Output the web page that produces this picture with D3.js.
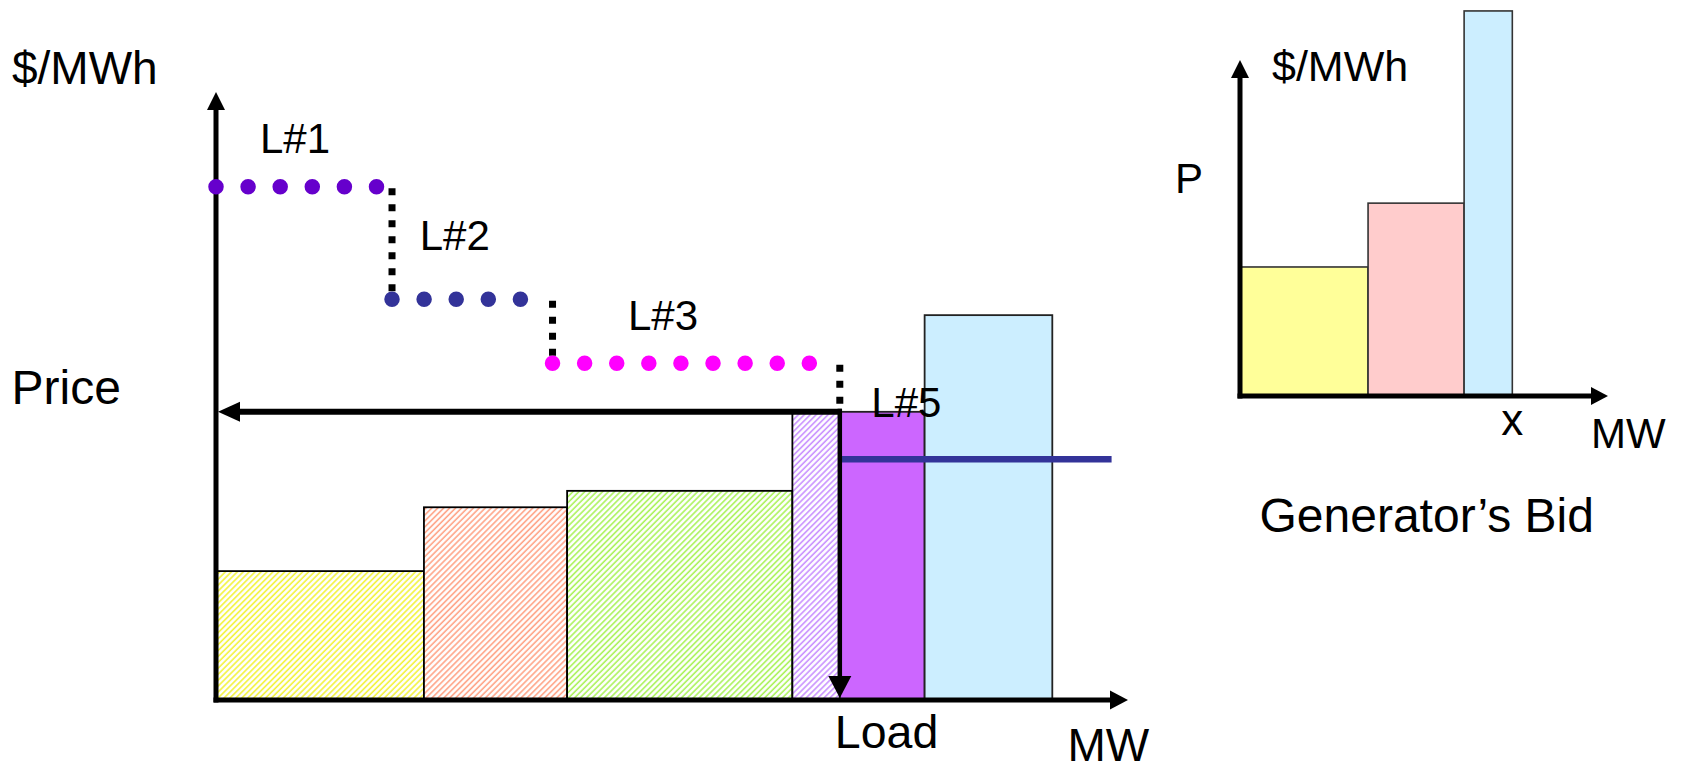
<!DOCTYPE html>
<html>
<head>
<meta charset="utf-8">
<script src="https://cdn.jsdelivr.net/npm/d3@7"></script>
<style>
  html, body { margin: 0; padding: 0; background: #ffffff; }
  svg { display: block; }
  text { font-family: "Liberation Sans", Arial, Helvetica, sans-serif; fill: #000; }
</style>
</head>
<body>
<div id="chart"></div>
<script>
// ---------------- DATA ----------------
// Main chart: generator offer stack (MW ranges and $/MWh prices)
const offerNames   = ["Gen A", "Gen B", "Gen C", "Gen D (dispatched)", "Gen D (not dispatched)", "Gen E"];
const offerStartMW = [0,    22.8, 38.5, 63.2, 68.4, 77.7];
const offerEndMW   = [22.8, 38.5, 63.2, 68.4, 77.7, 91.7];
const offerPrice   = [21.2, 31.7, 34.4, 47.4, 47.4, 63.3];

// Load (demand) bid steps
const loadNames    = ["L#1", "L#2", "L#3"];
const loadStartMW  = [0,    19.3, 36.9];
const loadEndMW    = [19.3, 36.9, 68.4];
const loadPrice    = [84.4, 65.9, 55.4];

// Market clearing
const clearingLoadMW = 68.4;
const clearingPrice  = 47.4;

// Horizontal bid line to the right of the load
const bidLineStartMW = 68.4;
const bidLineEndMW   = 98.2;
const bidLinePrice   = 39.6;

// Inset: a generator's bid (three blocks)
const bidNames   = ["Block 1", "Block 2", "Block 3"];
const bidStartMW = [0,    34.8, 60.9];
const bidEndMW   = [34.8, 60.9, 74.0];
const bidPrice   = [38.4, 57.4, 114.6];

// ---------------- SETUP ----------------
const W = 1681, H = 773;
const svg = d3.select("#chart").append("svg").attr("width", W).attr("height", H);

const x = d3.scaleLinear().domain([0, 100]).range([216, 1128]);
const y = d3.scaleLinear().domain([0, 100]).range([700, 92]);

const xi = d3.scaleLinear().domain([0, 100]).range([1240, 1608]);
const yi = d3.scaleLinear().domain([0, 100]).range([396, 60]);

// hatch patterns
const defs = svg.append("defs");
const hatchColors = { yellow: "#f2f23a", orange: "#ffa386", green: "#aaf25a", purple: "#c890ff" };
Object.entries(hatchColors).forEach(([k, c]) => {
  const p = defs.append("pattern").attr("id", "hatch-" + k)
    .attr("patternUnits", "userSpaceOnUse").attr("width", 4.2).attr("height", 4.2)
    .attr("patternTransform", "rotate(45)");
  p.append("rect").attr("width", 4.2).attr("height", 4.2).attr("fill", "#ffffff");
  p.append("line").attr("x1", 1).attr("y1", 0).attr("x2", 1).attr("y2", 4.2)
    .attr("stroke", c).attr("stroke-width", 1.6);
});

const offerFill   = ["url(#hatch-yellow)", "url(#hatch-orange)", "url(#hatch-green)", "url(#hatch-purple)", "#cc66ff", "#cceeff"];
const offerStroke = ["#000", "#000", "#000", "#000", "#222", "#222"];

// ---------------- MAIN CHART ----------------
const offers = offerNames.map((n, i) => ({ n, x0: offerStartMW[i], x1: offerEndMW[i], p: offerPrice[i], i }));
svg.append("g").selectAll("rect").data(offers).join("rect")
  .attr("x", d => x(d.x0)).attr("y", d => y(d.p))
  .attr("width", d => x(d.x1) - x(d.x0)).attr("height", d => y(0) - y(d.p))
  .attr("fill", d => offerFill[d.i]).attr("stroke", d => offerStroke[d.i]).attr("stroke-width", 1.8);

// bid line (navy)
svg.append("line")
  .attr("x1", x(bidLineStartMW)).attr("x2", x(bidLineEndMW))
  .attr("y1", y(bidLinePrice)).attr("y2", y(bidLinePrice))
  .attr("stroke", "#333399").attr("stroke-width", 6.5);

function arrow(g, x1, y1, x2, y2, w, headLen, headHalf) {
  const dx = x2 - x1, dy = y2 - y1, L = Math.hypot(dx, dy);
  const ux = dx / L, uy = dy / L;
  const bx = x2 - ux * headLen, by = y2 - uy * headLen;
  g.append("line").attr("x1", x1).attr("y1", y1).attr("x2", bx + ux * 1).attr("y2", by + uy * 1)
    .attr("stroke", "#000").attr("stroke-width", w);
  g.append("path")
    .attr("d", `M${x2},${y2}L${bx - uy * headHalf},${by + ux * headHalf}L${bx + uy * headHalf},${by - ux * headHalf}Z`)
    .attr("fill", "#000");
}

const axes = svg.append("g");
// main axes
arrow(axes, x(0), y(0) + 2.5, x(0), y.range()[1], 5, 18, 9);
arrow(axes, x(0) - 2.5, y(0), x.range()[1], y(0), 5, 18, 9.5);

// price arrow (from clearing point to the price axis)
arrow(axes, x(clearingLoadMW) + 2, y(clearingPrice), x(0) + 2, y(clearingPrice), 6, 22, 10);
// load arrow (down to the MW axis)
arrow(axes, x(clearingLoadMW), y(clearingPrice) - 3, x(clearingLoadMW), y(0) - 2, 4.5, 22, 11.5);

// demand steps: dotted colored lines
const loads = loadNames.map((n, i) => ({ n, x0: loadStartMW[i], x1: loadEndMW[i], p: loadPrice[i], i }));
const loadColors = ["#6600cc", "#333399", "#ff00ff"];
// black dotted risers
const riserY2 = loadPrice.slice(1).concat([clearingPrice]);
svg.append("g").selectAll("line").data(loads).join("line")
  .attr("x1", d => x(d.x1)).attr("x2", d => x(d.x1))
  .attr("y1", d => y(d.p) + 1.5).attr("y2", d => y(riserY2[d.i]) - 4)
  .attr("stroke", "#000").attr("stroke-width", 7).attr("stroke-dasharray", "7 9");
svg.append("g").selectAll("line").data(loads).join("line")
  .attr("x1", d => x(d.x0)).attr("x2", d => x(d.x1) - 12)
  .attr("y1", d => y(d.p)).attr("y2", d => y(d.p))
  .attr("stroke", d => loadColors[d.i]).attr("stroke-width", 15.5)
  .attr("stroke-linecap", "round").attr("stroke-dasharray", "0 32.1");

// labels
const lab = svg.append("g");
lab.append("text").attr("x", 12).attr("y", 83.5).attr("font-size", 46).text("$/MWh");
lab.append("text").attr("x", 11.5).attr("y", 403.5).attr("font-size", 48).text("Price");
const loadLabelPos = [[260, 153.3], [419.7, 250], [628, 330]];
loads.forEach((d, i) => {
  lab.append("text").attr("x", loadLabelPos[i][0]).attr("y", loadLabelPos[i][1]).attr("font-size", 42).text(d.n);
});
lab.append("text").attr("x", 871.3).attr("y", 416.7).attr("font-size", 42).text("L#5");
lab.append("text").attr("x", x(clearingLoadMW) - 5).attr("y", 747.7).attr("font-size", 46.5).text("Load");
lab.append("text").attr("x", 1067.5).attr("y", 761).attr("font-size", 46).text("MW");

// ---------------- INSET: GENERATOR'S BID ----------------
const bids = bidNames.map((n, i) => ({ n, x0: bidStartMW[i], x1: bidEndMW[i], p: bidPrice[i], i }));
const bidFill = ["#ffff99", "#ffcccc", "#cceeff"];
svg.append("g").selectAll("rect").data(bids).join("rect")
  .attr("x", d => xi(d.x0)).attr("y", d => yi(d.p))
  .attr("width", d => xi(d.x1) - xi(d.x0)).attr("height", d => yi(0) - yi(d.p))
  .attr("fill", d => bidFill[d.i]).attr("stroke", "#333").attr("stroke-width", 1.6);

const axesI = svg.append("g");
arrow(axesI, xi(0), yi(0) + 2.5, xi(0), yi.range()[1], 5, 18, 9);
arrow(axesI, xi(0) - 2.5, yi(0), xi.range()[1], yi(0), 5, 17, 9);

const labI = svg.append("g");
labI.append("text").attr("x", 1272).attr("y", 80.7).attr("font-size", 43).text("$/MWh");
labI.append("text").attr("x", 1175).attr("y", 192.7).attr("font-size", 42).text("P");
labI.append("text").attr("x", xi(bidEndMW[2])).attr("y", 435).attr("font-size", 44)
  .attr("text-anchor", "middle").text("x");
labI.append("text").attr("x", 1591).attr("y", 448.3).attr("font-size", 42).text("MW");
labI.append("text").attr("x", 1259.5).attr("y", 531.7).attr("font-size", 48).text("Generator\u2019s Bid");
</script>
</body>
</html>
